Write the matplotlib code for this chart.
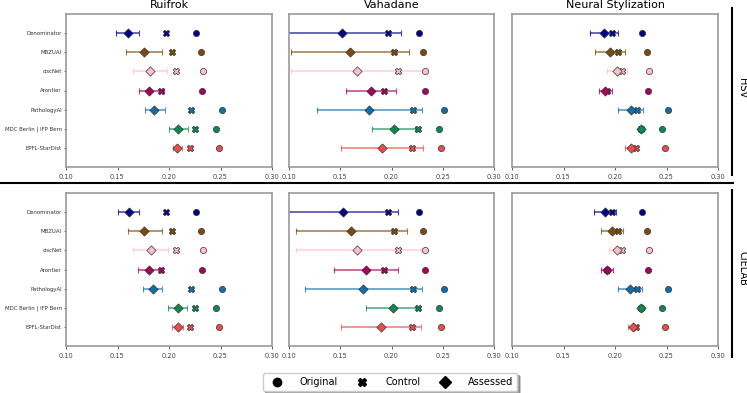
# Color augmentation comparison: original vs control vs assessed scores
import numpy as np
import matplotlib.pyplot as plt
from matplotlib.lines import Line2D

teams = ['Denominator', 'MBZUAI', 'ciscNet', 'Arontier', 'PathologyAI',
         'MDC Berlin | IFP Bern', 'EPFL-StarDist']
colors = ['#00008b', '#7d4b05', '#ffc0cb', '#a8005c', '#0f6fa8', '#0b8a4e', '#f04b4b']
methods = ['Ruifrok', 'Vahadane', 'Neural Stylization']
spaces = ['HSV', 'CIELAB']

# same for every panel
original = [0.2265, 0.2311, 0.2327, 0.2324, 0.2510, 0.2461, 0.2484]
control = [0.1970, 0.2025, 0.2065, 0.1924, 0.2211, 0.2254, 0.2202]

# assessed mean, lower, upper for each colour space / method
hsv_ruifrok = [0.1600, 0.1757, 0.1815, 0.1809, 0.1858, 0.2086, 0.2080]
hsv_ruifrok_lo = [0.1486, 0.1587, 0.1646, 0.1710, 0.1763, 0.2001, 0.2034]
hsv_ruifrok_hi = [0.1708, 0.1936, 0.1985, 0.1952, 0.1959, 0.2180, 0.2125]

hsv_vahadane = [0.1516, 0.1597, 0.1661, 0.1803, 0.1780, 0.2026, 0.1906]
hsv_vahadane_lo = [0.0950, 0.1018, 0.1019, 0.1552, 0.1271, 0.1806, 0.1503]
hsv_vahadane_hi = [0.2094, 0.2171, 0.2320, 0.2045, 0.2300, 0.2229, 0.2306]

hsv_neural = [0.1896, 0.1955, 0.2016, 0.1903, 0.2153, 0.2250, 0.2159]
hsv_neural_lo = [0.1760, 0.1808, 0.1925, 0.1844, 0.2032, 0.2224, 0.2100]
hsv_neural_hi = [0.2029, 0.2100, 0.2117, 0.1968, 0.2276, 0.2279, 0.2210]

lab_ruifrok = [0.1607, 0.1760, 0.1822, 0.1802, 0.1841, 0.2086, 0.2083]
lab_ruifrok_lo = [0.1506, 0.1600, 0.1652, 0.1701, 0.1744, 0.1995, 0.2031]
lab_ruifrok_hi = [0.1711, 0.1930, 0.1995, 0.1926, 0.1936, 0.2174, 0.2135]

lab_vahadane = [0.1526, 0.1600, 0.1668, 0.1748, 0.1726, 0.2016, 0.1897]
lab_vahadane_lo = [0.0950, 0.1065, 0.1065, 0.1439, 0.1155, 0.1752, 0.1503]
lab_vahadane_hi = [0.2068, 0.2152, 0.2290, 0.2065, 0.2297, 0.2281, 0.2287]

lab_neural = [0.1899, 0.1971, 0.2016, 0.1919, 0.2143, 0.2253, 0.2172]
lab_neural_lo = [0.1792, 0.1860, 0.1938, 0.1860, 0.2026, 0.2235, 0.2130]
lab_neural_hi = [0.2010, 0.2081, 0.2088, 0.1977, 0.2260, 0.2270, 0.2217]

panels = [
    [(hsv_ruifrok, hsv_ruifrok_lo, hsv_ruifrok_hi),
     (hsv_vahadane, hsv_vahadane_lo, hsv_vahadane_hi),
     (hsv_neural, hsv_neural_lo, hsv_neural_hi)],
    [(lab_ruifrok, lab_ruifrok_lo, lab_ruifrok_hi),
     (lab_vahadane, lab_vahadane_lo, lab_vahadane_hi),
     (lab_neural, lab_neural_lo, lab_neural_hi)],
]

W, H = 747, 393
fig = plt.figure(figsize=(W / 100, H / 100), dpi=100)

col_x = [(66, 272), (289, 494), (512, 718)]
row_y = [(14, 167), (193, 346)]

for r in range(2):
    for c in range(3):
        x0, x1 = col_x[c]
        y0, y1 = row_y[r]
        ax = fig.add_axes([x0 / W, (H - y1) / H, (x1 - x0) / W, (y1 - y0) / H])
        mean, lo, hi = panels[r][c]
        for i in range(len(teams)):
            col = colors[i]
            ax.scatter(original[i], i, marker='o', s=20, color=col,
                       edgecolors='#333333', linewidths=0.5, zorder=3)
            ax.scatter(control[i], i, marker='X', s=22, color=col,
                       edgecolors='#333333', linewidths=0.5, zorder=3)
            ax.errorbar(mean[i], i, xerr=[[mean[i] - lo[i]], [hi[i] - mean[i]]],
                        fmt='none', ecolor=col, alpha=0.75, elinewidth=1.1,
                        capsize=2.5, capthick=0.8, zorder=2)
            ax.scatter(mean[i], i, marker='D', s=22, color=col,
                       edgecolors='#333333', linewidths=0.5, zorder=4)
        ax.set_xlim(0.10, 0.30)
        ax.set_ylim(7, -1)
        ax.set_xticks([0.10, 0.15, 0.20, 0.25, 0.30])
        ax.set_xticklabels(['0.10', '0.15', '0.20', '0.25', '0.30'], fontsize=4.8)
        ax.tick_params(axis='x', length=2, width=0.6, pad=3, colors='#444444')
        if c == 0:
            ax.set_yticks(range(len(teams)))
            ax.set_yticklabels(teams, fontsize=3.9)
            ax.tick_params(axis='y', length=1.5, width=0.6, pad=1.5, colors='#333333')
        else:
            ax.set_yticks([])
        for s in ax.spines.values():
            s.set_color('#999999')
            s.set_linewidth(1.2)
        if r == 0:
            ax.set_title(methods[c], fontsize=8, pad=4)

# separators and row labels
fig.add_artist(Line2D([0, 733 / W], [1 - 183 / H, 1 - 183 / H],
                      transform=fig.transFigure, color='black', lw=1.5))
fig.add_artist(Line2D([732 / W, 732 / W], [1 - 8 / H, 1 - 175 / H],
                      transform=fig.transFigure, color='black', lw=1.5))
fig.add_artist(Line2D([732 / W, 732 / W], [1 - 190 / H, 1 - 357 / H],
                      transform=fig.transFigure, color='black', lw=1.5))
fig.text(742 / W, 1 - 88 / H, spaces[0], rotation=270, fontsize=7,
         ha='center', va='center')
fig.text(742 / W, 1 - 268 / H, spaces[1], rotation=270, fontsize=7,
         ha='center', va='center')

handles = [
    Line2D([], [], marker='o', color='black', ls='none', markersize=6, label='Original'),
    Line2D([], [], marker='X', color='black', ls='none', markersize=6, label='Control'),
    Line2D([], [], marker='D', color='black', ls='none', markersize=6, label='Assessed'),
]
fig.legend(handles=handles, loc='center', bbox_to_anchor=(390 / W, 1 - 382 / H),
           ncol=3, fontsize=7, shadow=True, frameon=True, fancybox=True,
           handletextpad=1.35, columnspacing=1.5, borderpad=0.45)

fig.savefig('out.png', dpi=100)
